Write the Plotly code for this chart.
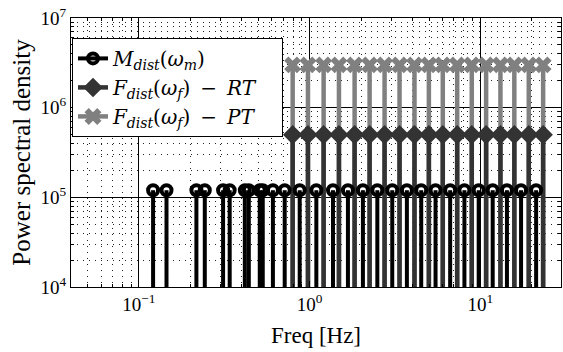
import plotly.graph_objects as go

# ---------------- data ----------------
m_freq = [0.121, 0.145, 0.217, 0.243, 0.311, 0.340, 0.417, 0.440, 0.510, 0.531,
          0.609, 0.714, 0.874, 1.094, 1.369, 1.675, 2.05, 2.49, 3.045, 3.71,
          4.50, 5.46, 6.65, 8.06, 9.77, 11.8, 14.3, 17.3, 21.2]
m_psd = [1.2e5] * len(m_freq)

f_freq = [0.795, 0.977, 1.207, 1.484, 1.833, 2.244, 2.746, 3.36, 4.11, 4.99,
          6.02, 7.31, 8.90, 10.8, 13.1, 15.8, 19.2, 23.3]
rt_psd = [5e5] * len(f_freq)
pt_psd = [3e6] * len(f_freq)

stem_base = 1e4

x_tickvals = [0.1, 1, 10]
x_ticktext = ["10<sup>−1</sup>", "10<sup>0</sup>", "10<sup>1</sup>"]
y_tickvals = [1e4, 1e5, 1e6, 1e7]
y_ticktext = ["10<sup>4</sup>", "10<sup>5</sup>", "10<sup>6</sup>", "10<sup>7</sup>"]

names = ["<i>M</i><sub><i>dist</i></sub>(<i>ω</i><sub><i>m</i></sub>)",
         "<i>F</i><sub><i>dist</i></sub>(<i>ω</i><sub><i>f</i></sub>)\u2002−\u2002<i>RT</i>\u2002\u2002",
         "<i>F</i><sub><i>dist</i></sub>(<i>ω</i><sub><i>f</i></sub>)\u2002−\u2002<i>PT</i>\u2002\u2002"]

FONT = "Liberation Serif"
LFONT = "DejaVu Serif"
C_M, C_RT, C_PT = "#000000", "#333333", "#808080"


def stems(xs, ys, base):
    sx, sy = [], []
    for x, y in zip(xs, ys):
        sx += [x, x, None]
        sy += [base, y, None]
    return sx, sy


fig = go.Figure()

series = [
    (f_freq, pt_psd, C_PT, 4.5, "x", 15, 0),
    (f_freq, rt_psd, C_RT, 4.5, "diamond", 15, 0),
    (m_freq, m_psd, C_M, 4, "circle-open", 10, 4),
]
for fx, fy, col, lw, sym, ms, mlw in series:
    sx, sy = stems(fx, fy, stem_base)
    fig.add_trace(go.Scatter(x=sx, y=sy, mode="lines", line=dict(color=col, width=lw),
                             showlegend=False, hoverinfo="skip"))
    fig.add_trace(go.Scatter(x=fx, y=fy, mode="markers",
                             marker=dict(symbol=sym, size=ms, color=col,
                                         line=dict(color=col, width=mlw)),
                             showlegend=False))

# legend entries
legend_style = [
    (C_M, 4, "circle-open", 10, 4),
    (C_RT, 4.5, "diamond", 15, 0),
    (C_PT, 4.5, "x", 15, 0),
]
for name, (col, lw, sym, ms, mlw) in zip(names, legend_style):
    fig.add_trace(go.Scatter(x=[None], y=[None], mode="lines+markers", name=name,
                             line=dict(color=col, width=lw),
                             marker=dict(symbol=sym, size=ms, color=col,
                                         line=dict(color=col, width=mlw))))

minor_x = [k * 10 ** n for n in range(-2, 2) for k in range(2, 10)]
minor_y = [k * 10 ** n for n in range(4, 7) for k in range(2, 10)]

axis_common = dict(
    type="log", showline=True, linecolor="black", linewidth=1, mirror="allticks",
    ticks="inside", ticklen=6, tickcolor="black", tickwidth=1,
    showgrid=True, gridcolor="black", gridwidth=1,
    zeroline=False, tickfont=dict(family=FONT, size=19, color="black"),
)
minor_common = dict(tickmode="array", ticks="inside", ticklen=3, tickcolor="black",
                    showgrid=True, gridcolor="#222222", griddash="1px,5px", gridwidth=1)

fig.update_layout(
    width=563, height=352,
    margin=dict(l=71, r=2, t=18, b=65),
    paper_bgcolor="white", plot_bgcolor="white",
    font=dict(family=FONT, color="black"),
    showlegend=True,
    legend=dict(x=0.002, y=0.926, xanchor="left", yanchor="top",
                bgcolor="white", bordercolor="black", borderwidth=1,
                font=dict(family=LFONT, size=20, color="black"),
                tracegroupgap=0, itemwidth=30),
    xaxis=dict(**axis_common, range=[-1.398, 1.472],
               tickmode="array", tickvals=x_tickvals, ticktext=x_ticktext,
               minor=dict(**minor_common, tickvals=minor_x),
               title=dict(text="Freq [Hz]", font=dict(family=FONT, size=23), standoff=13)),
    yaxis=dict(**axis_common, range=[4, 7],
               tickmode="array", tickvals=y_tickvals, ticktext=y_ticktext,
               minor=dict(**minor_common, tickvals=minor_y),
               title=dict(text="Power spectral density", font=dict(family=FONT, size=25),
                          standoff=2)),
)

fig.write_html("out.html")
